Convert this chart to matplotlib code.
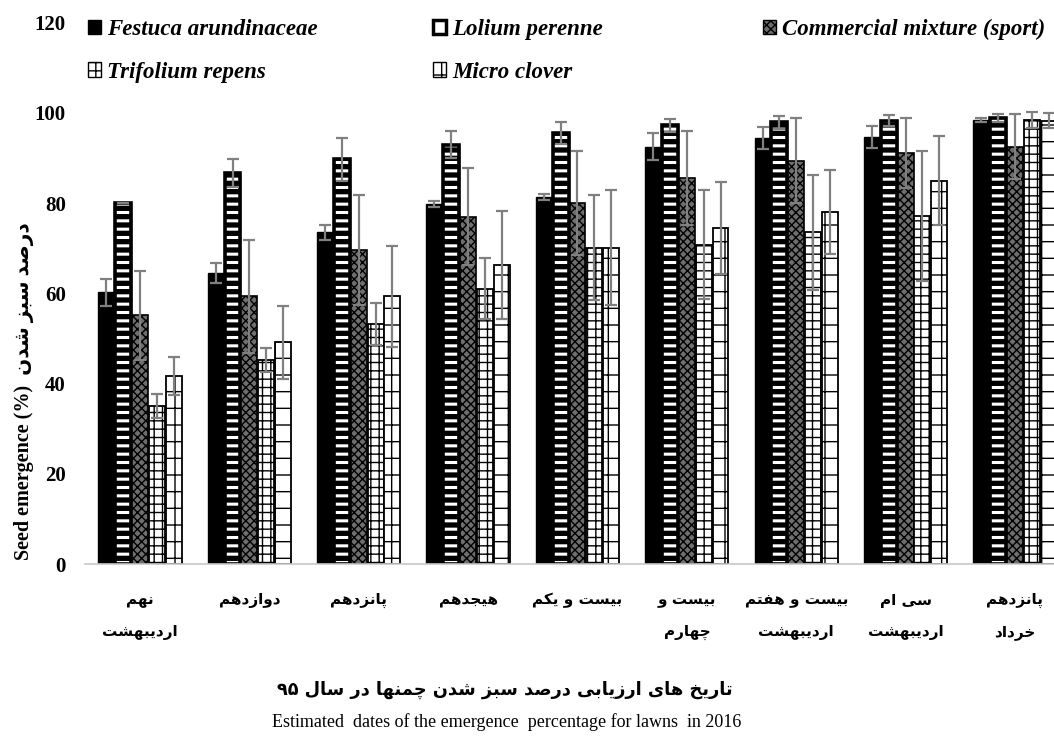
import re
import numpy as np
import matplotlib
matplotlib.use("Agg")
import matplotlib.pyplot as plt
from matplotlib.patches import Patch

# emergence (%) per assessment date, mean and error
dates = ["نهم\nاردیبهشت", "دوازدهم", "پانزدهم", "هیجدهم", "بیست و یکم",
         "بیست و\nچهارم", "بیست و هفتم\nاردیبهشت", "سی ام\nاردیبهشت", "پانزدهم\nخرداد"]
series = ["Festuca arundinaceae", "Lolium perenne", "Commercial mixture (sport)",
          "Trifolium repens", "Micro clover"]

festuca = [60.2, 64.5, 73.5, 79.8, 81.3, 92.5, 94.4, 94.6, 98.4]
festuca_err = [3.0, 2.2, 1.7, 0.6, 0.7, 3.0, 2.4, 2.5, 0.5]
lolium = [80.0, 86.6, 89.7, 92.9, 95.5, 97.2, 97.9, 98.3, 98.8]
lolium_err = [0.0, 3.1, 4.8, 3.0, 2.4, 1.4, 1.4, 1.2, 0.9]
commercial = [55.1, 59.3, 69.5, 77.0, 80.0, 85.5, 89.4, 91.1, 92.5]
commercial_err = [9.8, 12.5, 12.2, 10.7, 11.6, 10.4, 9.4, 7.7, 7.2]
trifolium = [35.0, 45.2, 53.2, 61.0, 70.1, 70.8, 73.5, 77.2, 98.4]
trifolium_err = [2.6, 2.6, 4.7, 6.8, 11.6, 12.1, 12.8, 14.4, 1.7]
micro = [41.7, 49.1, 59.3, 66.3, 70.1, 74.4, 78.1, 85.0, 98.3]
micro_err = [4.2, 8.1, 11.1, 12.0, 12.8, 10.2, 9.3, 9.8, 1.7]

xlabel_fa = "تاریخ های ارزیابی درصد سبز شدن چمنها در سال ۹۵"
xlabel_en = "Estimated  dates of the emergence  percentage for lawns  in 2016"
ylabel_fa = "درصد سبز شدن"
ylabel_en = "Seed emergence (%)"

# matplotlib has no arabic shaping, so pick presentation forms by hand
# (isolated, final) for right-joining letters, (isolated, final, initial, medial) otherwise
FORMS = {
    'ا': '\uFE8D\uFE8E', 'د': '\uFEA9\uFEAA', 'ر': '\uFEAD\uFEAE',
    'ز': '\uFEAF\uFEB0', 'و': '\uFEED\uFEEE',
    'ب': '\uFE8F\uFE90\uFE91\uFE92', 'ت': '\uFE95\uFE96\uFE97\uFE98',
    'ج': '\uFE9D\uFE9E\uFE9F\uFEA0', 'خ': '\uFEA5\uFEA6\uFEA7\uFEA8',
    'س': '\uFEB1\uFEB2\uFEB3\uFEB4', 'ش': '\uFEB5\uFEB6\uFEB7\uFEB8',
    'ص': '\uFEB9\uFEBA\uFEBB\uFEBC', 'ف': '\uFED1\uFED2\uFED3\uFED4',
    'ل': '\uFEDD\uFEDE\uFEDF\uFEE0', 'م': '\uFEE1\uFEE2\uFEE3\uFEE4',
    'ن': '\uFEE5\uFEE6\uFEE7\uFEE8', 'ه': '\uFEE9\uFEEA\uFEEB\uFEEC',
    'پ': '\uFB56\uFB57\uFB58\uFB59', 'چ': '\uFB7A\uFB7B\uFB7C\uFB7D',
    'ک': '\uFB8E\uFB8F\uFB90\uFB91', 'ی': '\uFBFC\uFBFD\uFBFE\uFBFF',
}


def shape_line(text):
    out = []
    i = 0
    n = len(text)
    while i < n:
        c = text[i]
        if c not in FORMS:
            out.append(c)
            i += 1
            continue
        prev = text[i - 1] if i > 0 else ''
        joins_prev = prev in FORMS and len(FORMS[prev]) == 4
        if c == 'ل' and i + 1 < n and text[i + 1] == 'ا':
            out.append('\uFEFC' if joins_prev else '\uFEFB')
            i += 2
            continue
        nxt = text[i + 1] if i + 1 < n else ''
        f = FORMS[c]
        joins_next = len(f) == 4 and nxt in FORMS
        if joins_prev and joins_next:
            out.append(f[3])
        elif joins_prev:
            out.append(f[1])
        elif joins_next:
            out.append(f[2])
        else:
            out.append(f[0])
        i += 1
    s = ''.join(out)[::-1]
    return re.sub('[0-9\u06F0-\u06F9]+', lambda m: m.group(0)[::-1], s)


def fa(text):
    return '\n'.join(shape_line(l) for l in text.split('\n'))


SERIF = ['Liberation Serif', 'DejaVu Sans']

fig = plt.figure(figsize=(10.54, 7.38), dpi=100)
ax_left = 85.3 / 1054
ax = fig.add_axes([ax_left, 1 - 564 / 738, 1 - ax_left, (564 - 22.6) / 738])

x = np.arange(len(dates))
step = 0.154
w = 0.145
vals = [festuca, lolium, commercial, trifolium, micro]
errs = [festuca_err, lolium_err, commercial_err, trifolium_err, micro_err]

for k, (v, e) in enumerate(zip(vals, errs)):
    xs = x + (k - 2) * step
    if k == 0:
        ax.bar(xs, v, w, color='black', edgecolor='black', lw=1)
    elif k == 1:
        ax.bar(xs, v, w, color='black', edgecolor='black', lw=1)
        with plt.rc_context({'hatch.linewidth': 2.2}):
            ax.bar(xs, v, w, facecolor='none', edgecolor='white', lw=0, hatch='--')
        ax.bar(xs, v, w, fill=False, edgecolor='black', lw=2.6)
    elif k == 2:
        ax.bar(xs, v, w, facecolor='#6e6e6e', edgecolor='black', lw=1.2, hatch='xxxx')
    elif k == 3:
        ax.bar(xs, v, w, facecolor='white', edgecolor='black', lw=1.3, hatch='++')
    else:
        ax.bar(xs, v, w, facecolor='white', edgecolor='black', lw=1.3, hatch='+')
    ax.errorbar(xs, v, yerr=e, fmt='none', ecolor='#808080', elinewidth=1.6,
                capsize=4.5, capthick=1.6)

ax.set_ylim(0, 120)
ax.set_xlim(-0.5, 8.357)
ax.set_yticks(range(0, 121, 20))
ax.set_yticklabels([str(t) for t in range(0, 121, 20)], fontfamily=SERIF,
                   fontweight='bold', fontsize=15)
ax.set_xticks(x)
ax.set_xticklabels([fa(d) for d in dates], family=['DejaVu Sans'], fontsize=11,
                   fontweight='bold', linespacing=2.3)
ax.tick_params(axis='y', length=0, pad=14)
ax.tick_params(axis='x', length=0, pad=21)
for s in ['top', 'right', 'left']:
    ax.spines[s].set_visible(False)
ax.spines['bottom'].set_color('#c8c8c8')
ax.spines['bottom'].set_linewidth(1.2)

# legend, one block per column so the columns sit where they should
legend_cols = [
    (88, [Patch(facecolor='black', edgecolor='black'),
          Patch(facecolor='white', edgecolor='black', hatch='++')],
     [series[0], series[3]]),
    (433, [Patch(facecolor='white', edgecolor='black', lw=2.5),
           Patch(facecolor='white', edgecolor='black', hatch='+')],
     [series[1], series[4]]),
    (763, [Patch(facecolor='#6e6e6e', edgecolor='black', hatch='xxxx')],
     [series[2]]),
]
for xpix, hs, ls in legend_cols:
    leg = fig.legend(hs, ls, loc='upper left',
                     bbox_to_anchor=(xpix / 1054, 1 - 19 / 738),
                     frameon=False, borderpad=0, borderaxespad=0,
                     handlelength=0.55, handleheight=0.6, handletextpad=0.3,
                     labelspacing=0.95,
                     prop={'family': SERIF, 'weight': 'bold', 'style': 'italic', 'size': 16.5})

fig.text(24 / 1054, 1 - 391 / 738, ylabel_en + '  ' + fa(ylabel_fa), rotation=90,
         ha='center', va='center', family=SERIF, fontweight='bold', fontsize=14.5)
fig.text(505 / 1054, 1 - 690 / 738, fa(xlabel_fa), ha='center', va='center',
         family=['DejaVu Sans'], fontweight='bold', fontsize=12.8)
fig.text(507 / 1054, 1 - 722 / 738, xlabel_en, ha='center', va='center',
         family=SERIF, fontsize=13)

fig.savefig('out.png', dpi=100, facecolor='white')
